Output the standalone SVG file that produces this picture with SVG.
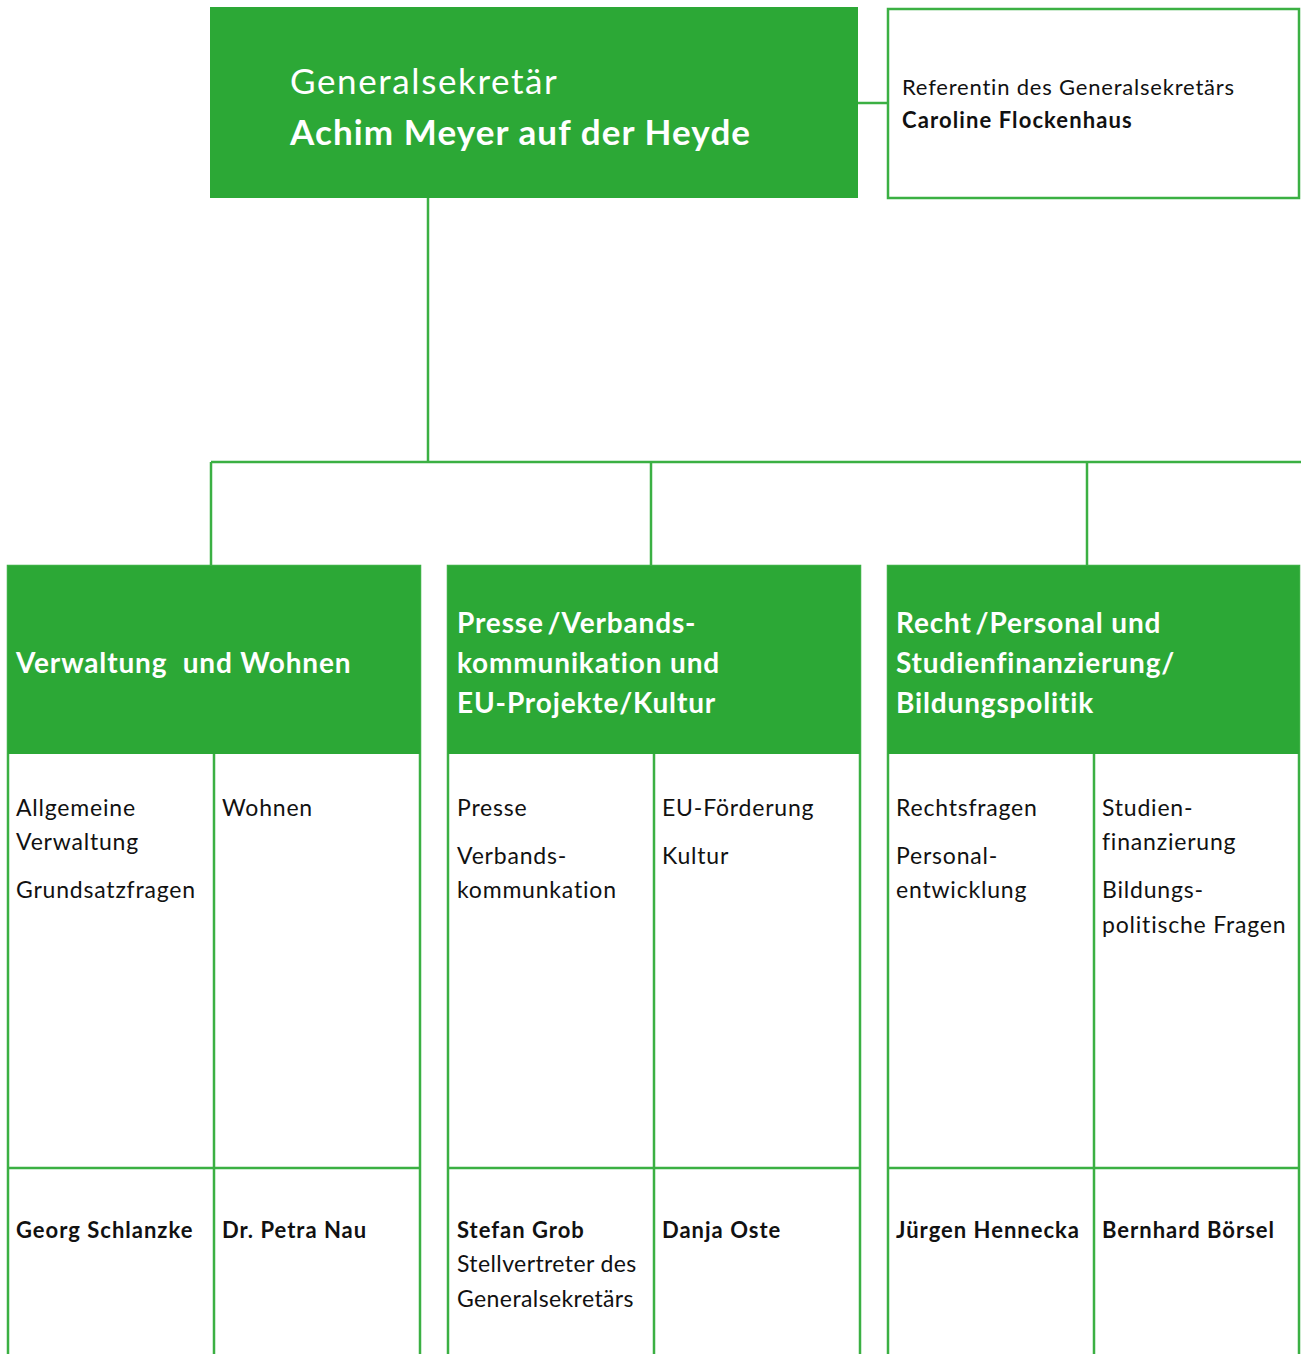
<svg xmlns="http://www.w3.org/2000/svg" width="1301" height="1354" viewBox="0 0 1301 1354">
<style>
.fill{fill:#2ca836}
.ln{stroke:#3bb043;stroke-width:2.5;fill:none}
.box{fill:#fff;stroke:#3bb043;stroke-width:2.5}
text{font-family:Lato,"Open Sans","Liberation Sans",sans-serif}
.w{fill:#fff}
.k{fill:#111}
.h1{font-size:35px}
.hd{font-size:28px;font-weight:700;letter-spacing:0.85px}
.b{font-size:23px;letter-spacing:0.8px}
.bb{font-size:22px;font-weight:700;letter-spacing:1px}
</style>
<rect width="1301" height="1354" fill="#fff"/>
<g id="connectors">
<line class="ln" x1="428" y1="198" x2="428" y2="462"/>
<line class="ln" x1="211" y1="462" x2="1301" y2="462"/>
<line class="ln" x1="211" y1="462" x2="211" y2="566"/>
<line class="ln" x1="651" y1="462" x2="651" y2="566"/>
<line class="ln" x1="1087" y1="462" x2="1087" y2="566"/>
<line class="ln" x1="858" y1="103" x2="888" y2="103"/>
</g>
<g id="generalsekretaer">
<rect class="fill" x="210" y="7" width="648" height="191"/>
<text class="w h1" x="290" y="94" style="letter-spacing:1.6px">Generalsekretär</text>
<text class="w h1" x="290" y="145" font-weight="700" style="letter-spacing:1.1px">Achim Meyer auf der Heyde</text>
</g>
<g id="referentin">
<rect class="box" x="888" y="9" width="411" height="189"/>
<text class="k" x="902" y="95" font-size="22" style="letter-spacing:0.8px">Referentin des Generalsekretärs</text>
<text class="k" x="902" y="128" font-size="22" font-weight="700" style="letter-spacing:1.1px">Caroline Flockenhaus</text>
</g>
<g id="verwaltung">
<rect class="box" x="8" y="566" width="412" height="800"/>
<rect class="fill" x="8" y="566" width="412" height="188"/>
<line class="ln" x1="214" y1="754" x2="214" y2="1360"/>
<line class="ln" x1="8" y1="1168" x2="420" y2="1168"/>
<text class="w hd" x="16" y="673" xml:space="preserve">Verwaltung  und Wohnen</text>
<text class="k b" x="16" y="816">Allgemeine</text>
<text class="k b" x="16" y="850">Verwaltung</text>
<text class="k b" x="16" y="898">Grundsatzfragen</text>
<text class="k b" x="222" y="816">Wohnen</text>
<text class="k bb" x="16" y="1238">Georg Schlanzke</text>
<text class="k bb" x="222" y="1238">Dr. Petra Nau</text>
</g>
<g id="presse">
<rect class="box" x="448" y="566" width="412" height="800"/>
<rect class="fill" x="448" y="566" width="412" height="188"/>
<line class="ln" x1="654" y1="754" x2="654" y2="1360"/>
<line class="ln" x1="448" y1="1168" x2="860" y2="1168"/>
<text class="w hd" x="457" y="633">Presse<tspan font-size="12"> </tspan>/Verbands-</text>
<text class="w hd" x="457" y="673">kommunikation und</text>
<text class="w hd" x="457" y="713">EU-Projekte/Kultur</text>
<text class="k b" x="457" y="816">Presse</text>
<text class="k b" x="457" y="864">Verbands-</text>
<text class="k b" x="457" y="898">kommunkation</text>
<text class="k b" x="662" y="816">EU-Förderung</text>
<text class="k b" x="662" y="864">Kultur</text>
<text class="k bb" x="457" y="1238">Stefan Grob</text>
<text class="k b" x="457" y="1272" style="letter-spacing:0.4px">Stellvertreter des</text>
<text class="k b" x="457" y="1307" style="letter-spacing:0.4px">Generalsekretärs</text>
<text class="k bb" x="662" y="1238">Danja Oste</text>
</g>
<g id="recht">
<rect class="box" x="888" y="566" width="411" height="800"/>
<rect class="fill" x="888" y="566" width="411" height="188"/>
<line class="ln" x1="1094" y1="754" x2="1094" y2="1360"/>
<line class="ln" x1="888" y1="1168" x2="1299" y2="1168"/>
<text class="w hd" x="896" y="633">Recht<tspan font-size="12"> </tspan>/Personal und</text>
<text class="w hd" x="896" y="673">Studienfinanzierung/</text>
<text class="w hd" x="896" y="713">Bildungspolitik</text>
<text class="k b" x="896" y="816">Rechtsfragen</text>
<text class="k b" x="896" y="864">Personal-</text>
<text class="k b" x="896" y="898">entwicklung</text>
<text class="k b" x="1102" y="816">Studien-</text>
<text class="k b" x="1102" y="850">finanzierung</text>
<text class="k b" x="1102" y="898">Bildungs-</text>
<text class="k b" x="1102" y="933">politische Fragen</text>
<text class="k bb" x="896" y="1238">Jürgen Hennecka</text>
<text class="k bb" x="1102" y="1238">Bernhard Börsel</text>
</g>
</svg>
